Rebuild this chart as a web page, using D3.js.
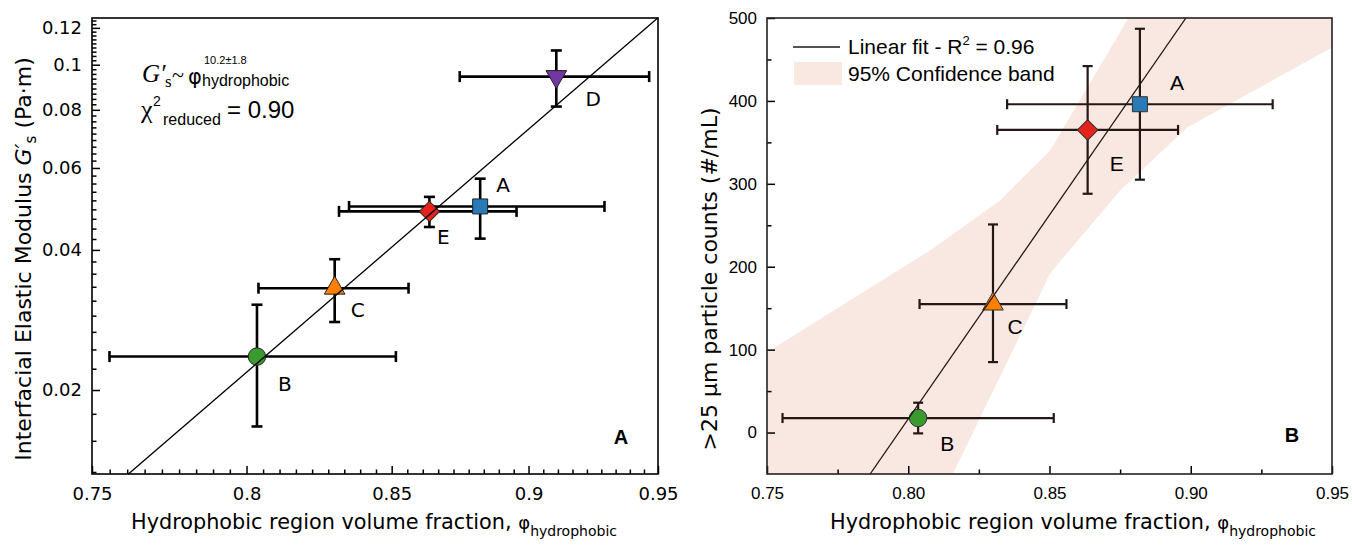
<!DOCTYPE html>
<html>
<head>
<meta charset="utf-8">
<script src="https://cdn.jsdelivr.net/npm/d3@7"></script>
<style>
  body { margin: 0; background: #fff; }
  svg { display: block; }
</style>
</head>
<body>
<script>
// ---- data ----
// samples shared by both panels
var sampleNames = ["B", "C", "E", "A", "D"];
var sampleColors = ["#3a9a2e", "#ff8000", "#e3231c", "#2a7ab8", "#7436a2"];
var sampleShapes = ["circle", "triangle", "diamond", "square", "triangleDown"];
var phiVal = [0.8035, 0.830, 0.8635, 0.882, 0.9105];
var phiErr = [0.048, 0.026, 0.032, 0.047, 0.036];

// panel A : interfacial elastic modulus (Pa.m)
var gsVal = [0.0236, 0.0331, 0.0484, 0.0496, 0.0943];
var gsErr = [0.0069, 0.0051, 0.0036, 0.0073, 0.013];
var fitGsPhi = [0.7614, 0.95];
var fitGsVal = [0.01318, 0.1262];

// panel B : >25 um particle counts (#/mL), samples B, C, E, A
var countVal = [17.5, 155, 365, 396];
var countErrLo = [18.5, 70, 77, 91];
var countErrHi = [18.5, 96, 77, 91];
var fitCountPhi = [0.7865, 0.8983];
var fitCountVal = [-50, 500];
var bandUpPhi = [0.75, 0.8077, 0.8325, 0.8502, 0.8778, 0.95];
var bandUpVal = [96.7, 219.6, 279.9, 340.1, 499.2, 850];
var bandLoPhi = [0.75, 0.8158, 0.8456, 0.8502, 0.875, 0.8987, 0.95];
var bandLoVal = [-430, -49.6, 159.4, 192, 292, 367.8, 464.5];

// tick values
var xTicksA = [0.75, 0.8, 0.85, 0.9, 0.95];
var yTicksA = [0.02, 0.04, 0.06, 0.08, 0.1, 0.12];
var xTicksB = [0.75, 0.80, 0.85, 0.90, 0.95];
var yTicksB = [0, 100, 200, 300, 400, 500];

var tahoma = "'DejaVu Sans', Verdana, sans-serif";
var arial = "'Liberation Sans', Arial, Helvetica, sans-serif";
var serif = "'Liberation Serif', 'Times New Roman', serif";

var svg = d3.select("body").append("svg")
    .attr("width", 1352)
    .attr("height", 545);

// marker helper
function marker(shape, size) {
  if (shape == "circle") return d3.symbol(d3.symbolCircle, size)();
  if (shape == "square") return d3.symbol(d3.symbolSquare, size)();
  if (shape == "diamond") return d3.symbol(d3.symbolSquare, size)();
  return d3.symbol(d3.symbolTriangle, size)();
}
function markerRot(shape) {
  if (shape == "diamond") return 45;
  if (shape == "triangleDown") return 180;
  return 0;
}
var markerSize = {circle: 240, square: 225, diamond: 210, triangle: 185, triangleDown: 185};

// minor ticks between majors (8 per interval)
function minorTicks(majors, lo, hi, n) {
  var out = [];
  var step = majors[1] - majors[0];
  var start = majors[0] - step, end = majors[majors.length - 1] + step;
  for (var m = start; m < end - 1e-9; m += step) {
    for (var k = 1; k <= n; k++) {
      var v = m + k * step / (n + 1);
      if (v > lo && v < hi) out.push(v);
    }
  }
  return out;
}

function styleAxis(g, font, size) {
  g.select(".domain").remove();
  g.attr("font-family", font).attr("font-size", size);
  g.selectAll("line").attr("stroke", "#000").attr("stroke-width", 1.5);
  g.selectAll("text").attr("fill", "#000");
}

// ****************** Panel A ******************
var pA = {left: 92, right: 658, top: 18, bottom: 474};
var xA = d3.scaleLog().domain([0.75, 0.95]).range([pA.left, pA.right]);
var yA = d3.scaleLog().domain([0.0132, 0.126]).range([pA.bottom, pA.top]);
var gA = svg.append("g");

gA.append("g")
    .attr("transform", "translate(0," + pA.bottom + ")")
    .call(d3.axisBottom(xA).tickValues(minorTicks(xTicksA, 0.75, 0.95, 8))
      .tickSize(-4.5).tickSizeOuter(0).tickFormat(""))
    .call(styleAxis, tahoma, 18);
gA.append("g")
    .attr("transform", "translate(0," + pA.bottom + ")")
    .call(d3.axisBottom(xA).tickValues(xTicksA).tickSize(-8).tickSizeOuter(0)
      .tickPadding(13).tickFormat(d3.format("~g")))
    .call(styleAxis, tahoma, 18);
gA.append("g")
    .attr("transform", "translate(" + pA.left + ",0)")
    .call(d3.axisLeft(yA).tickValues(minorTicks(yTicksA, 0.0132, 0.126, 8))
      .tickSize(-4.5).tickSizeOuter(0).tickFormat(""))
    .call(styleAxis, tahoma, 18);
gA.append("g")
    .attr("transform", "translate(" + pA.left + ",0)")
    .call(d3.axisLeft(yA).tickValues(yTicksA).tickSize(-8).tickSizeOuter(0)
      .tickPadding(10).tickFormat(d3.format("~g")))
    .call(styleAxis, tahoma, 18);

gA.append("rect")
    .attr("x", pA.left).attr("y", pA.top)
    .attr("width", pA.right - pA.left).attr("height", pA.bottom - pA.top)
    .attr("fill", "none").attr("stroke", "#000").attr("stroke-width", 1.6);

// error bars
var capA = 5.5;
sampleNames.forEach(function(name, i) {
  var cx = xA(phiVal[i]), cy = yA(gsVal[i]);
  var x0 = xA(phiVal[i] - phiErr[i]), x1 = xA(phiVal[i] + phiErr[i]);
  var y0 = yA(gsVal[i] - gsErr[i]), y1 = yA(gsVal[i] + gsErr[i]);
  var eb = gA.append("g").attr("stroke", "#000").attr("stroke-width", 2.6);
  eb.append("line").attr("x1", x0).attr("x2", x1).attr("y1", cy).attr("y2", cy);
  eb.append("line").attr("x1", x0).attr("x2", x0).attr("y1", cy - capA).attr("y2", cy + capA);
  eb.append("line").attr("x1", x1).attr("x2", x1).attr("y1", cy - capA).attr("y2", cy + capA);
  eb.append("line").attr("x1", cx).attr("x2", cx).attr("y1", y0).attr("y2", y1);
  eb.append("line").attr("x1", cx - capA).attr("x2", cx + capA).attr("y1", y0).attr("y2", y0);
  eb.append("line").attr("x1", cx - capA).attr("x2", cx + capA).attr("y1", y1).attr("y2", y1);
});

// markers
gA.selectAll("path.mk")
    .data(sampleNames)
  .enter().append("path")
    .attr("class", "mk")
    .attr("d", function(d, i) { return marker(sampleShapes[i], markerSize[sampleShapes[i]]); })
    .attr("transform", function(d, i) {
      return "translate(" + xA(phiVal[i]) + "," + yA(gsVal[i]) + ") rotate(" + markerRot(sampleShapes[i]) + ")";
    })
    .attr("fill", function(d, i) { return sampleColors[i]; })
    .attr("stroke", "#222").attr("stroke-width", 1);

// fit line
gA.append("path")
    .attr("d", d3.line()(fitGsPhi.map(function(p, i) { return [xA(p), yA(fitGsVal[i])]; })))
    .attr("stroke", "#000").attr("stroke-width", 1.3).attr("fill", "none");

// point labels
var labOffA = {B: [28, 27], C: [23, 22], E: [14, 25], A: [23, -22], D: [37, 22]};
gA.selectAll("text.lab")
    .data(sampleNames)
  .enter().append("text")
    .attr("class", "lab")
    .attr("x", function(d, i) { return xA(phiVal[i]) + labOffA[d][0]; })
    .attr("y", function(d, i) { return yA(gsVal[i]) + labOffA[d][1]; })
    .attr("dy", "0.36em")
    .attr("text-anchor", "middle")
    .attr("font-family", tahoma).attr("font-size", 20)
    .text(function(d) { return d; });

gA.append("text")
    .attr("x", 621).attr("y", 444)
    .attr("text-anchor", "middle")
    .attr("font-family", arial).attr("font-weight", "bold").attr("font-size", 20)
    .text("A");

// annotation
var an = gA.append("g").attr("fill", "#000");
an.append("text").attr("x", 142).attr("y", 82).attr("font-family", serif)
    .attr("font-style", "italic").attr("font-size", 25).text("G′");
an.append("text").attr("x", 165).attr("y", 87).attr("font-family", serif)
    .attr("font-size", 17).text("s");
an.append("text").attr("x", 172).attr("y", 82).attr("font-family", serif)
    .attr("font-size", 22).text("~");
an.append("text").attr("x", 188).attr("y", 84).attr("font-family", tahoma)
    .attr("font-size", 21).text("φ");
an.append("text").attr("x", 202).attr("y", 86).attr("font-family", arial)
    .attr("font-size", 16).text("hydrophobic");
an.append("text").attr("x", 204).attr("y", 64).attr("font-family", arial)
    .attr("font-size", 11).text("10.2±1.8");
an.append("text").attr("x", 141).attr("y", 118).attr("font-family", serif)
    .attr("font-size", 26).text("χ");
an.append("text").attr("x", 153).attr("y", 106).attr("font-family", arial)
    .attr("font-size", 14).text("2");
an.append("text").attr("x", 163).attr("y", 125).attr("font-family", arial)
    .attr("font-size", 16).text("reduced");
an.append("text").attr("x", 227).attr("y", 118).attr("font-family", arial)
    .attr("font-size", 24).text("= 0.90");

// axis titles
var xtA = gA.append("text")
    .attr("x", 131).attr("y", 529)
    .attr("font-family", tahoma).attr("font-size", 20.8);
xtA.append("tspan").text("Hydrophobic region volume fraction, ");
xtA.append("tspan").attr("font-size", 18).text("φ");
xtA.append("tspan").attr("font-size", 14).attr("dy", 7).text("hydrophobic");

var ytA = gA.append("text")
    .attr("transform", "translate(31,259) rotate(-90)")
    .attr("text-anchor", "middle")
    .attr("font-family", tahoma).attr("font-size", 22);
ytA.append("tspan").text("Interfacial Elastic Modulus ");
ytA.append("tspan").attr("font-style", "italic").text("G′");
ytA.append("tspan").attr("font-size", 15).attr("dy", 5).text("s");
ytA.append("tspan").attr("dy", -5).text(" (Pa·m)");

// ****************** Panel B ******************
var pB = {left: 767, right: 1332, top: 18, bottom: 474};
var xB = d3.scaleLinear().domain([0.75, 0.95]).range([pB.left, pB.right]);
var yB = d3.scaleLinear().domain([-50, 500]).range([pB.bottom, pB.top]);
var gB = svg.append("g");

svg.append("defs").append("clipPath").attr("id", "clipB")
  .append("rect")
    .attr("x", pB.left).attr("y", pB.top)
    .attr("width", pB.right - pB.left).attr("height", pB.bottom - pB.top);

// confidence band
var bandPts = bandUpPhi.map(function(p, i) { return [xB(p), yB(bandUpVal[i])]; })
  .concat(bandLoPhi.map(function(p, i) { return [xB(p), yB(bandLoVal[i])]; }).reverse());
gB.append("path")
    .attr("clip-path", "url(#clipB)")
    .attr("d", d3.line()(bandPts) + "Z")
    .attr("fill", "#f9e7e1");

var ebColor = "#231815";
gB.append("g")
    .attr("transform", "translate(0," + pB.bottom + ")")
    .call(d3.axisBottom(xB).tickValues([0.775, 0.825, 0.875, 0.925])
      .tickSize(-4.5).tickSizeOuter(0).tickFormat(""))
    .call(styleAxis, arial, 17);
gB.append("g")
    .attr("transform", "translate(0," + pB.bottom + ")")
    .call(d3.axisBottom(xB).tickValues(xTicksB).tickSize(-8).tickSizeOuter(0)
      .tickPadding(13).tickFormat(d3.format(".2f")))
    .call(styleAxis, arial, 17);
gB.append("g")
    .attr("transform", "translate(" + pB.left + ",0)")
    .call(d3.axisLeft(yB).tickValues([50, 150, 250, 350, 450])
      .tickSize(-4.5).tickSizeOuter(0).tickFormat(""))
    .call(styleAxis, arial, 17);
gB.append("g")
    .attr("transform", "translate(" + pB.left + ",0)")
    .call(d3.axisLeft(yB).tickValues(yTicksB).tickSize(-8).tickSizeOuter(0)
      .tickPadding(10).tickFormat(d3.format("d")))
    .call(styleAxis, arial, 17);

gB.append("rect")
    .attr("x", pB.left).attr("y", pB.top)
    .attr("width", pB.right - pB.left).attr("height", pB.bottom - pB.top)
    .attr("fill", "none").attr("stroke", "#222").attr("stroke-width", 1.6);

var capB = 5;
countVal.forEach(function(v, i) {
  var cx = xB(phiVal[i]), cy = yB(v);
  var x0 = xB(phiVal[i] - phiErr[i]), x1 = xB(phiVal[i] + phiErr[i]);
  var y0 = yB(v - countErrLo[i]), y1 = yB(v + countErrHi[i]);
  var eb = gB.append("g").attr("stroke", ebColor).attr("stroke-width", 2.2);
  eb.append("line").attr("x1", x0).attr("x2", x1).attr("y1", cy).attr("y2", cy);
  eb.append("line").attr("x1", x0).attr("x2", x0).attr("y1", cy - capB).attr("y2", cy + capB);
  eb.append("line").attr("x1", x1).attr("x2", x1).attr("y1", cy - capB).attr("y2", cy + capB);
  eb.append("line").attr("x1", cx).attr("x2", cx).attr("y1", y0).attr("y2", y1);
  eb.append("line").attr("x1", cx - capB).attr("x2", cx + capB).attr("y1", y0).attr("y2", y0);
  eb.append("line").attr("x1", cx - capB).attr("x2", cx + capB).attr("y1", y1).attr("y2", y1);
});

gB.selectAll("path.mk")
    .data(countVal)
  .enter().append("path")
    .attr("class", "mk")
    .attr("d", function(d, i) { return marker(sampleShapes[i], markerSize[sampleShapes[i]]); })
    .attr("transform", function(d, i) {
      return "translate(" + xB(phiVal[i]) + "," + yB(d) + ") rotate(" + markerRot(sampleShapes[i]) + ")";
    })
    .attr("fill", function(d, i) { return sampleColors[i]; })
    .attr("stroke", "#333").attr("stroke-width", 1);

gB.append("path")
    .attr("clip-path", "url(#clipB)")
    .attr("d", d3.line()(fitCountPhi.map(function(p, i) { return [xB(p), yB(fitCountVal[i])]; })))
    .attr("stroke", ebColor).attr("stroke-width", 1.3).attr("fill", "none");

var labOffB = {B: [29, 25], C: [22, 22], E: [29, 34], A: [37, -22]};
gB.selectAll("text.lab")
    .data(countVal)
  .enter().append("text")
    .attr("class", "lab")
    .attr("x", function(d, i) { return xB(phiVal[i]) + labOffB[sampleNames[i]][0]; })
    .attr("y", function(d, i) { return yB(d) + labOffB[sampleNames[i]][1]; })
    .attr("dy", "0.36em")
    .attr("text-anchor", "middle")
    .attr("font-family", arial).attr("font-size", 21)
    .text(function(d, i) { return sampleNames[i]; });

gB.append("text")
    .attr("x", 1292).attr("y", 442)
    .attr("text-anchor", "middle")
    .attr("font-family", arial).attr("font-weight", "bold").attr("font-size", 20)
    .text("B");

// legend
var lg = gB.append("g").attr("font-family", arial).attr("font-size", 21);
lg.append("line").attr("x1", 793).attr("x2", 840).attr("y1", 47).attr("y2", 47)
    .attr("stroke", ebColor).attr("stroke-width", 1.5);
var lt = lg.append("text").attr("x", 848).attr("y", 54);
lt.append("tspan").text("Linear fit - R");
lt.append("tspan").attr("font-size", 13).attr("dy", -9).text("2");
lt.append("tspan").attr("dy", 9).text(" = 0.96");
lg.append("rect").attr("x", 794).attr("y", 62).attr("width", 48).attr("height", 23)
    .attr("fill", "#f9e7e1");
lg.append("text").attr("x", 848).attr("y", 81).text("95% Confidence band");

// axis titles
var xtB = gB.append("text")
    .attr("x", 830).attr("y", 529)
    .attr("font-family", tahoma).attr("font-size", 20.8);
xtB.append("tspan").text("Hydrophobic region volume fraction, ");
xtB.append("tspan").attr("font-size", 18).text("φ");
xtB.append("tspan").attr("font-size", 14).attr("dy", 7).text("hydrophobic");

gB.append("text")
    .attr("transform", "translate(717,279) rotate(-90)")
    .attr("text-anchor", "middle")
    .attr("font-family", tahoma).attr("font-size", 22)
    .text(">25 μm particle counts (#/mL)");
</script>
</body>
</html>
